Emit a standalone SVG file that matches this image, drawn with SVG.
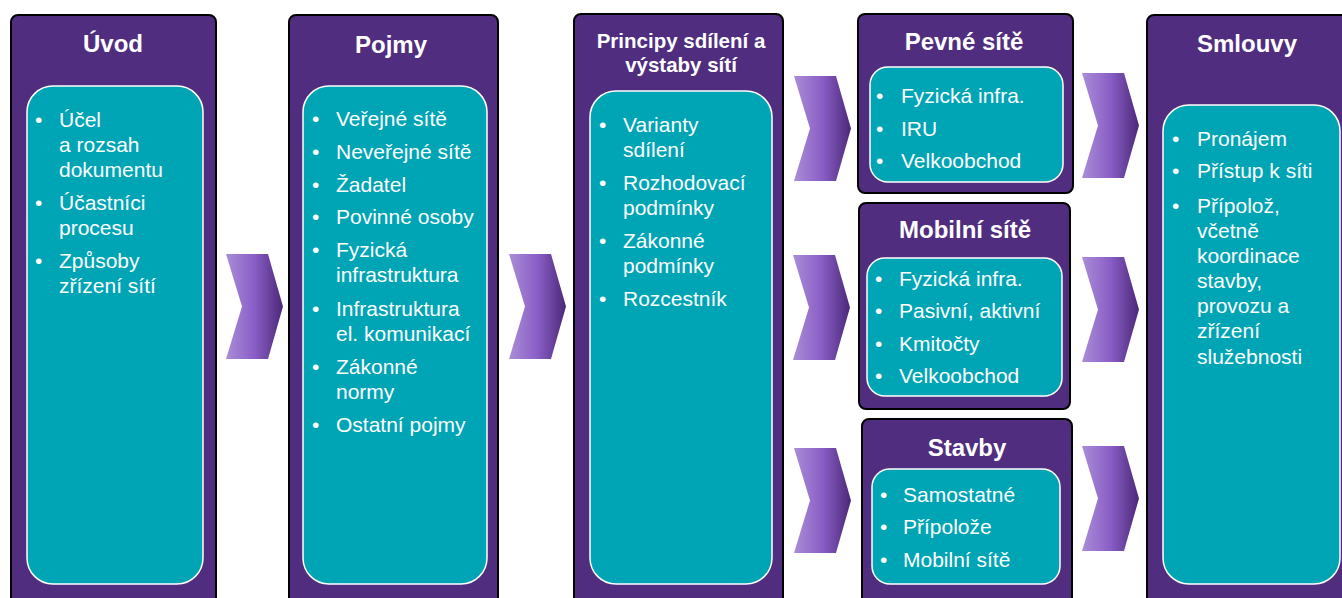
<svg xmlns="http://www.w3.org/2000/svg" width="1342" height="598" viewBox="0 0 1342 598">
<style>
.outer{fill:#502D7F;stroke:#000;stroke-width:2}
.inner{fill:#00A5B5;stroke:#fff;stroke-width:1.5}
.title{font-family:"Liberation Sans",Arial,sans-serif;font-weight:bold;font-size:24px;fill:#fff;text-anchor:middle}
.title2{font-family:"Liberation Sans",Arial,sans-serif;font-weight:bold;font-size:20.5px;fill:#fff;text-anchor:middle}
.item{font-family:"Liberation Sans",Arial,sans-serif;font-size:21px;fill:#fff}
</style>
<defs>
<linearGradient id="chevGrad" x1="0" y1="0" x2="1" y2="0">
<stop offset="0" stop-color="#AA8DD8"/>
<stop offset="0.5" stop-color="#8A5EC6"/>
<stop offset="1" stop-color="#4B2878"/>
</linearGradient>
<polygon id="chev" points="0,0 42,0 57,52.5 42,105 0,105 16,52.5" fill="url(#chevGrad)"/>
</defs>
<rect width="1342" height="598" fill="#fff"/>

<g id="connectors">
<use href="#chev" x="226" y="254"/>
<use href="#chev" x="509" y="254"/>
<use href="#chev" x="794" y="76"/>
<use href="#chev" x="793" y="255"/>
<use href="#chev" x="794" y="448"/>
<use href="#chev" x="1082" y="73"/>
<use href="#chev" x="1082" y="257"/>
<use href="#chev" x="1082" y="446"/>
</g>

<g id="uvod">
<rect class="outer" x="11" y="15" width="205" height="600" rx="7"/>
<rect class="inner" x="27" y="86" width="176" height="498" rx="26"/>
<text class="title" x="113" y="52">Úvod</text>
<g class="item">
<text x="35" y="127">•</text><text x="59" y="127">Účel</text>
<text x="59" y="152">a rozsah</text>
<text x="59" y="177">dokumentu</text>
<text x="35" y="210">•</text><text x="59" y="210">Účastníci</text>
<text x="59" y="235">procesu</text>
<text x="35" y="268">•</text><text x="59" y="268">Způsoby</text>
<text x="59" y="293">zřízení sítí</text>
</g>
</g>

<g id="pojmy">
<rect class="outer" x="289" y="15" width="209" height="600" rx="7"/>
<rect class="inner" x="303" y="86" width="184" height="498" rx="26"/>
<text class="title" x="391" y="53">Pojmy</text>
<g class="item">
<text x="312" y="126">•</text><text x="336" y="126">Veřejné sítě</text>
<text x="312" y="159">•</text><text x="336" y="159">Neveřejné sítě</text>
<text x="312" y="192">•</text><text x="336" y="192">Žadatel</text>
<text x="312" y="224">•</text><text x="336" y="224">Povinné osoby</text>
<text x="312" y="257">•</text><text x="336" y="257">Fyzická</text>
<text x="336" y="282">infrastruktura</text>
<text x="312" y="316">•</text><text x="336" y="316">Infrastruktura</text>
<text x="336" y="341">el. komunikací</text>
<text x="312" y="374">•</text><text x="336" y="374">Zákonné</text>
<text x="336" y="399">normy</text>
<text x="312" y="432">•</text><text x="336" y="432">Ostatní pojmy</text>
</g>
</g>

<g id="principy">
<rect class="outer" x="574" y="14" width="209" height="600" rx="7"/>
<rect class="inner" x="590" y="91" width="182" height="493" rx="26"/>
<text class="title2" x="681" y="48">Principy sdílení a</text>
<text class="title2" x="681" y="72">výstaby sítí</text>
<g class="item">
<text x="599" y="132">•</text><text x="623" y="132">Varianty</text>
<text x="623" y="157">sdílení</text>
<text x="599" y="190">•</text><text x="623" y="190">Rozhodovací</text>
<text x="623" y="215">podmínky</text>
<text x="599" y="248">•</text><text x="623" y="248">Zákonné</text>
<text x="623" y="273">podmínky</text>
<text x="599" y="306">•</text><text x="623" y="306">Rozcestník</text>
</g>
</g>

<g id="pevne">
<rect class="outer" x="858" y="14" width="215" height="179" rx="7"/>
<rect class="inner" x="870" y="67" width="193" height="115" rx="18"/>
<text class="title" x="964" y="50">Pevné sítě</text>
<g class="item">
<text x="876" y="103">•</text><text x="901" y="103">Fyzická infra.</text>
<text x="876" y="136">•</text><text x="901" y="136">IRU</text>
<text x="876" y="168">•</text><text x="901" y="168">Velkoobchod</text>
</g>
</g>

<g id="mobilni">
<rect class="outer" x="859" y="203" width="211" height="206" rx="7"/>
<rect class="inner" x="867" y="258" width="195" height="138" rx="18"/>
<text class="title" x="965" y="238">Mobilní sítě</text>
<g class="item">
<text x="875" y="286">•</text><text x="899" y="286">Fyzická infra.</text>
<text x="875" y="318">•</text><text x="899" y="318">Pasivní, aktivní</text>
<text x="875" y="351">•</text><text x="899" y="351">Kmitočty</text>
<text x="875" y="383">•</text><text x="899" y="383">Velkoobchod</text>
</g>
</g>

<g id="stavby">
<rect class="outer" x="862" y="419" width="210" height="200" rx="7"/>
<rect class="inner" x="872" y="469" width="188" height="115" rx="18"/>
<text class="title" x="967" y="456">Stavby</text>
<g class="item">
<text x="880" y="502">•</text><text x="903" y="502">Samostatné</text>
<text x="880" y="534">•</text><text x="903" y="534">Přípolože</text>
<text x="880" y="567">•</text><text x="903" y="567">Mobilní sítě</text>
</g>
</g>

<g id="smlouvy">
<rect class="outer" x="1147" y="15" width="210" height="600" rx="7"/>
<rect class="inner" x="1163" y="105" width="177" height="479" rx="26"/>
<text class="title" x="1247" y="52">Smlouvy</text>
<g class="item">
<text x="1172" y="146">•</text><text x="1197" y="146">Pronájem</text>
<text x="1172" y="178">•</text><text x="1197" y="178">Přístup k síti</text>
<text x="1172" y="213">•</text><text x="1197" y="213">Přípolož,</text>
<text x="1197" y="238">včetně</text>
<text x="1197" y="263">koordinace</text>
<text x="1197" y="288">stavby,</text>
<text x="1197" y="313">provozu a</text>
<text x="1197" y="338">zřízení</text>
<text x="1197" y="364">služebnosti</text>
</g>
</g>
</svg>
